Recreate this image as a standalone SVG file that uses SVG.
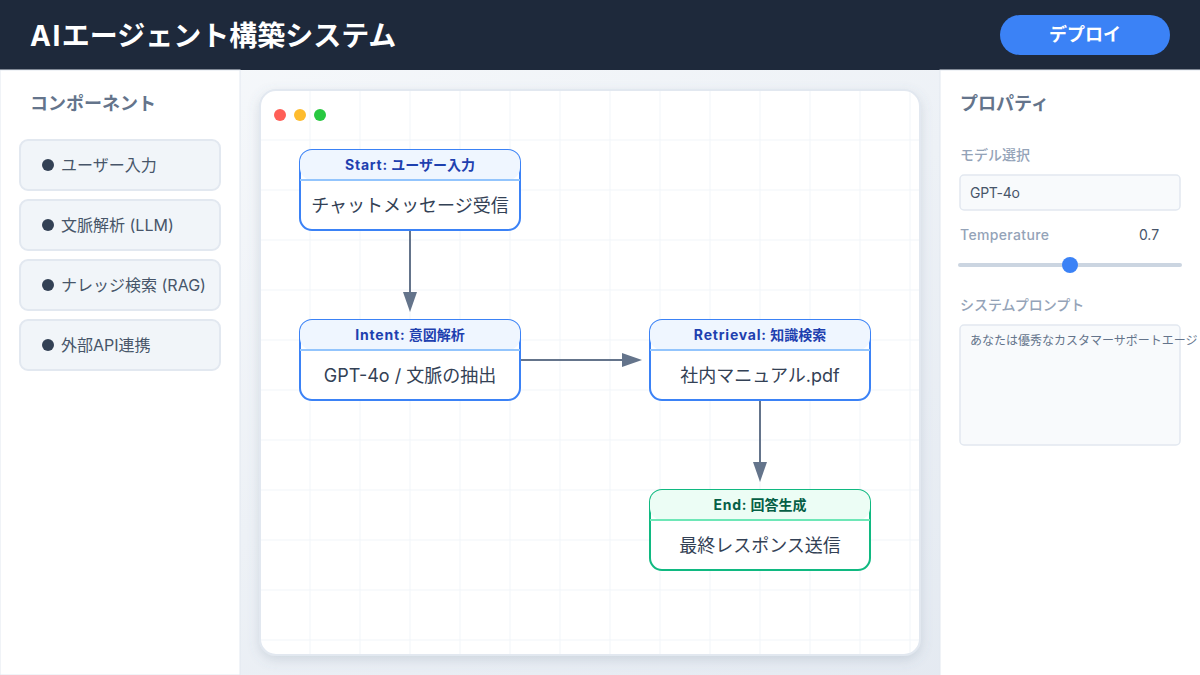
<svg xmlns="http://www.w3.org/2000/svg" width="1200" height="675" viewBox="0 0 1200 675">
<style>
text{font-family:"Inter","Noto Sans CJK JP",sans-serif}
.item{fill:#f1f5f9;stroke:#e2e8f0;stroke-width:2}
.itxt{font-size:16px;fill:#475569}
.dot{fill:#334155}
.h3{font-size:18px;font-weight:700;fill:#64748b}
.lab{font-size:14px;font-weight:500;fill:#94a3b8}
.inp{fill:#f8fafc;stroke:#e2e8f0;stroke-width:1.5}
.grid{stroke:#f1f5f9;stroke-width:1;fill:none}
.nb{fill:#fff;stroke:#3b82f6;stroke-width:2}
.nh{fill:#eff6ff}
.nl{stroke:#93c5fd;stroke-width:2}
.nt{font-size:14px;font-weight:700;fill:#1e40af;text-anchor:middle}
.nc{font-size:18px;fill:#334155;text-anchor:middle}
.ls{letter-spacing:.8px}
.conn{stroke:#64748b;stroke-width:2;fill:none;marker-end:url(#arr)}
</style>
<defs>
<linearGradient id="bg" x1="0" y1="0" x2="1" y2="1"><stop offset="0" stop-color="#f8fafc"/><stop offset="1" stop-color="#e2e8f0"/></linearGradient>
<filter id="sh" x="-10%" y="-10%" width="120%" height="120%"><feDropShadow dx="0" dy="4" stdDeviation="6" flood-color="#64748b" flood-opacity="0.2"/></filter>
<marker id="arr" markerUnits="userSpaceOnUse" markerWidth="20" markerHeight="14" refX="0" refY="7" orient="auto" viewBox="0 0 20 14"><path d="M0 0L20 7L0 14z" fill="#64748b"/></marker>
<clipPath id="cv"><rect x="261" y="91" width="658" height="563" rx="15"/></clipPath>
</defs>
<rect width="1200" height="675" fill="url(#bg)"/>
<g id="canvas">
<rect x="260" y="90" width="660" height="565" rx="16" fill="#fff" stroke="#e2e8f0" stroke-width="2" filter="url(#sh)"/>
<path class="grid" clip-path="url(#cv)" d="M310 91V654M360 91V654M410 91V654M460 91V654M510 91V654M560 91V654M610 91V654M660 91V654M710 91V654M760 91V654M810 91V654M860 91V654M910 91V654M261 140H919M261 190H919M261 240H919M261 290H919M261 340H919M261 390H919M261 440H919M261 490H919M261 540H919M261 590H919M261 640H919"/>
<circle cx="280" cy="115" r="6" fill="#ff5f57"/><circle cx="300" cy="115" r="6" fill="#febc2e"/><circle cx="320" cy="115" r="6" fill="#28c840"/>
</g>
<g id="header">
<rect width="1200" height="70" fill="#1e293b"/>
<text x="30" y="46" font-size="28" font-weight="700" fill="#fff"><tspan letter-spacing="1.5">AI</tspan>エージェント構築システム</text>
<rect x="1000" y="15" width="170" height="40" rx="20" fill="#3b82f6"/>
<text x="1085" y="41" font-size="18" font-weight="700" fill="#fff" text-anchor="middle">デプロイ</text>
</g>
<g id="sidebar">
<rect x="0" y="70" width="240" height="605" fill="#fff" stroke="#e2e8f0" stroke-width="1"/>
<text class="h3" x="30" y="110">コンポーネント</text>
<rect class="item" x="20" y="140" width="200" height="50" rx="8"/><circle class="dot" cx="48" cy="165" r="6"/><text class="itxt" x="61" y="171">ユーザー入力</text>
<rect class="item" x="20" y="200" width="200" height="50" rx="8"/><circle class="dot" cx="48" cy="225" r="6"/><text class="itxt" x="61" y="231">文脈解析 (LLM)</text>
<rect class="item" x="20" y="260" width="200" height="50" rx="8"/><circle class="dot" cx="48" cy="285" r="6"/><text class="itxt" x="61" y="291">ナレッジ検索 (RAG)</text>
<rect class="item" x="20" y="320" width="200" height="50" rx="8"/><circle class="dot" cx="48" cy="345" r="6"/><text class="itxt" x="61" y="351">外部API連携</text>
</g>
<g id="props">
<rect x="940" y="70" width="261" height="606" fill="#fff" stroke="#e2e8f0" stroke-width="1"/>
<text class="h3" x="960" y="110">プロパティ</text>
<text class="lab" x="960" y="160">モデル選択</text>
<rect class="inp" x="960" y="175" width="220" height="35" rx="4"/>
<text x="970" y="198" font-size="14" fill="#475569" letter-spacing="-.3">GPT-4o</text>
<text class="lab" x="960" y="240" letter-spacing=".35">Temperature</text>
<text x="1149" y="240" font-size="14" fill="#475569" text-anchor="middle">0.7</text>
<rect x="958" y="263" width="224" height="4" rx="2" fill="#cbd5e1"/>
<circle cx="1070" cy="265" r="8" fill="#3b82f6"/>
<text class="lab" x="960" y="310">システムプロンプト</text>
<rect class="inp" x="960" y="325" width="220" height="120" rx="4"/>
<text x="970" y="345" font-size="12" fill="#64748b">あなたは優秀なカスタマーサポートエージ</text>
</g>
<g id="connectors">
<path class="conn" d="M410 230V292"/>
<path class="conn" d="M520 360H622"/>
<path class="conn" d="M760 400V462"/>
</g>
<g id="node-start">
<rect class="nb" x="300" y="150" width="220" height="80" rx="12"/>
<rect class="nh" x="300" y="150" width="220" height="30" rx="12"/><path class="nl" d="M300 180H520"/>
<text class="nt" x="410" y="170"><tspan class="ls">Start:</tspan> ユーザー入力</text><text class="nc" x="410" y="212">チャットメッセージ受信</text>
</g>
<g id="node-intent">
<rect class="nb" x="300" y="320" width="220" height="80" rx="12"/>
<rect class="nh" x="300" y="320" width="220" height="30" rx="12"/><path class="nl" d="M300 350H520"/>
<text class="nt" x="410" y="340"><tspan class="ls">Intent:</tspan> 意図解析</text><text class="nc" x="410" y="382">GPT-4o / 文脈の抽出</text>
</g>
<g id="node-retrieval">
<rect class="nb" x="650" y="320" width="220" height="80" rx="12"/>
<rect class="nh" x="650" y="320" width="220" height="30" rx="12"/><path class="nl" d="M650 350H870"/>
<text class="nt" x="760" y="340"><tspan class="ls">Retrieval:</tspan> 知識検索</text><text class="nc" x="760" y="382">社内マニュアル.pdf</text>
</g>
<g id="node-end">
<rect class="nb" style="stroke:#10b981" x="650" y="490" width="220" height="80" rx="12"/>
<rect class="nh" style="fill:#ecfdf5" x="650" y="490" width="220" height="30" rx="12"/><path class="nl" style="stroke:#6ee7b7" d="M650 520H870"/>
<text class="nt" style="fill:#065f46" x="760" y="510"><tspan class="ls">End:</tspan> 回答生成</text><text class="nc" x="760" y="552">最終レスポンス送信</text>
</g>
</svg>
